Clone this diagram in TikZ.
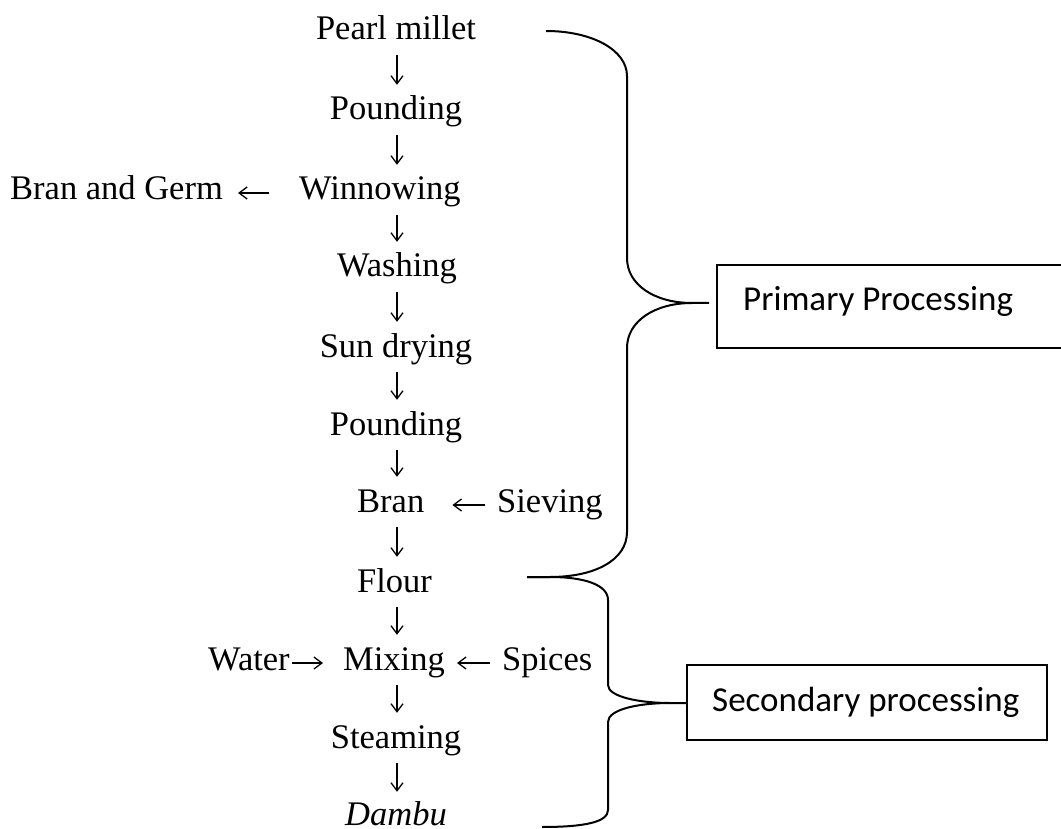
\documentclass[tikz,border=0pt]{standalone}
\usepackage{fontspec}
\setmainfont{Liberation Serif}
\newfontfamily\boxfont{Carlito}
\usetikzlibrary{arrows.meta}
\begin{document}
\begin{tikzpicture}[x=1pt,y=-1pt,
  lbl/.style={inner sep=0pt, text height=22pt, text depth=8pt, font=\fontsize{34.5}{40}\selectfont},
  flow/.style={line width=1.3pt, -{Straight Barb[length=8pt,width=12pt]}},
  down/.style={flow, shorten <=7pt, shorten >=13pt},
  brace/.style={line width=2pt},
  box/.style={draw, line width=2pt, inner sep=0pt},
  boxlbl/.style={inner sep=0pt, font=\boxfont\fontsize{35}{42}\selectfont}]

\useasboundingbox (0,0) rectangle (1061,829);
\fill[white] (0,0) rectangle (1061,829);

\coordinate (ax) at (397,0);

% main column
\node[lbl, anchor=base] (pm) at (396,40) {Pearl millet};
\node[lbl, anchor=base] (p1) at (396,120) {Pounding};
\node[lbl, anchor=base west] (win) at (299,200) {Winnowing};
\node[lbl, anchor=base west] (bg) at (10,200) {Bran and Germ};
\node[lbl, anchor=base] (wash) at (397,277) {Washing};
\node[lbl, anchor=base] (sun) at (396,357) {Sun drying};
\node[lbl, anchor=base] (p2) at (396,435) {Pounding};
\node[lbl, anchor=base west] (bran) at (357,512) {Bran};
\node[lbl, anchor=base west] (siev) at (497,512) {Sieving};
\node[lbl, anchor=base west] (flour) at (357,592) {Flour};
\node[lbl, anchor=base west] (water) at (208,670) {Water};
\node[lbl, anchor=base west] (mix) at (343,670) {Mixing};
\node[lbl, anchor=base west] (spices) at (502,670) {Spices};
\node[lbl, anchor=base] (steam) at (396,748) {Steaming};
\node[lbl, anchor=base, text depth=1pt] (dambu) at (396,825) {\textit{Dambu}};

% vertical arrows
\draw[down] (pm.south -| ax) -- (p1.north -| ax);
\draw[down] (p1.south -| ax) -- (win.north -| ax);
\draw[down] (win.south -| ax) -- (wash.north -| ax);
\draw[down] (wash.south -| ax) -- (sun.north -| ax);
\draw[down] (sun.south -| ax) -- (p2.north -| ax);
\draw[down] (p2.south -| ax) -- (bran.north -| ax);
\draw[down] (bran.south -| ax) -- (flour.north -| ax);
\draw[down] (flour.south -| ax) -- (mix.north -| ax);
\draw[down] (mix.south -| ax) -- (steam.north -| ax);
\draw[down, shorten >=11pt] (steam.south -| ax) -- (dambu.north -| ax);

% horizontal arrows
\draw[flow, shorten <=30pt, shorten >=15pt] (win.west) -- (bg.east);
\draw[flow, shorten <=12pt, shorten >=28pt] (siev.west) -- (bran.east);
\draw[flow, shorten <=2pt, shorten >=20pt] (water.east) -- (mix.west);
\draw[flow, shorten <=12pt, shorten >=12pt] (spices.west) -- (mix.east);

% braces
\draw[brace] (546,31) .. controls (592,31) and (627,50) .. (627,76)
  -- (627,258) .. controls (627,285) and (655,303) .. (692,303) -- (709,303);
\draw[brace] (692,303) .. controls (655,303) and (627,321) .. (627,348)
  -- (627,532) .. controls (627,560) and (595,577) .. (550,577) -- (527,577);
\draw[brace] (527,577) -- (550,577) .. controls (585,577) and (608,585) .. (608,600)
  -- (608,685) .. controls (608,697) and (640,703) .. (670,703) -- (686,703);
\draw[brace] (670,703) .. controls (640,703) and (608,709) .. (608,722)
  -- (608,810) .. controls (608,822) and (585,827) .. (542,827);

% boxes
\node[box, anchor=north west, minimum width=360pt, minimum height=83pt] (pbox) at (716,264) {};
\node[boxlbl, anchor=base west] (ptxt) at (743,311) {Primary Processing};
\node[box, anchor=north west, minimum width=360pt, minimum height=75pt] (sbox) at (686,664) {};
\node[boxlbl, anchor=base west] (stxt) at (712,711) {Secondary processing};
\end{tikzpicture}
\end{document}
